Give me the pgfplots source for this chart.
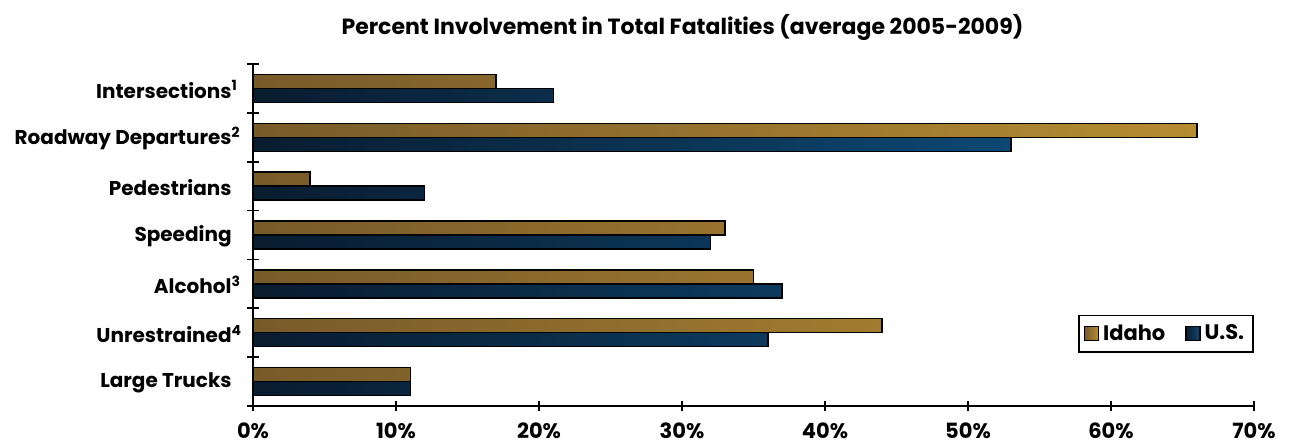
\documentclass[border=0pt]{standalone}
\usepackage{pgfplots}
\pgfplotsset{compat=1.18}
\usepackage{fontspec}
\setmainfont{Poppins}
\definecolor{idL}{RGB}{120,90,42}
\definecolor{idR}{RGB}{182,140,50}
\definecolor{usL}{RGB}{9,28,48}
\definecolor{usR}{RGB}{13,72,114}

\begin{document}
\begin{tikzpicture}[font=\bfseries]
  \begin{axis}[
      scale only axis,
      width=500.5pt,
      height=171pt,
      clip=false,
      xbar,
      bar width=7pt,
      xmin=0, xmax=70,
      ymin=-0.5, ymax=6.5,
      axis x line=bottom,
      axis y line=left,
      axis line style={-, line width=0.8pt},
      tick style={line width=0.8pt, black},
      tick align=center,
      major tick length=5pt,
      minor tick length=6pt,
      /pgf/number format/assume math mode=true,
      xtick={0,10,...,70},
      xticklabel={\pgfmathprintnumber{\tick}\%},
      xticklabel style={font=\fontsize{10.5}{12}\bfseries, yshift=-2.5pt},
      ytick={0,...,6},
      yticklabels={Large Trucks, Unrestrained\rlap{\textsuperscript{4}},
        Alcohol\rlap{\textsuperscript{3}}, Speeding, Pedestrians,
        Roadway Departures\rlap{\textsuperscript{2}},
        Intersections\rlap{\textsuperscript{1}}},
      yticklabel style={font=\fontsize{10}{11}\bfseries, anchor=east, inner sep=0pt, xshift=-8pt, yshift=-0.5pt},
      major y tick style={draw=none},
      minor ytick={-0.5,0.5,...,6.5},
      legend style={at={(1,0.155)}, anchor=south east, draw=black, line width=0.9pt,
        font=\fontsize{10.5}{12}\bfseries, legend columns=2, inner sep=2.5pt,
        /tikz/every even column/.append style={column sep=8pt}},
      legend image code/.code={\draw[#1, line width=0.6pt] (0pt,-3.5pt) rectangle (7pt,3.5pt);},
    ]
    \addplot[draw=black, line width=0.75pt, left color=idL, right color=idR, bar shift=3.5pt]
      coordinates {(11,0) (44,1) (35,2) (33,3) (4,4) (66,5) (17,6)};
    \addplot[draw=black, line width=0.75pt, left color=usL, right color=usR, bar shift=-3.5pt]
      coordinates {(11,0) (36,1) (37,2) (32,3) (12,4) (53,5) (21,6)};
    \legend{Idaho, U.S.}
    \node[font=\fontsize{11}{13}\bfseries] at (rel axis cs:0.429,1) [yshift=18.5pt] {Percent Involvement in Total Fatalities (average 2005-2009)};
  \end{axis}
  \pgfresetboundingbox
  \path[use as bounding box] ([shift={(-126.5pt,-19pt)}]current axis.south west)
    rectangle ([shift={(18.5pt,32pt)}]current axis.north east);
\end{tikzpicture}
\end{document}
